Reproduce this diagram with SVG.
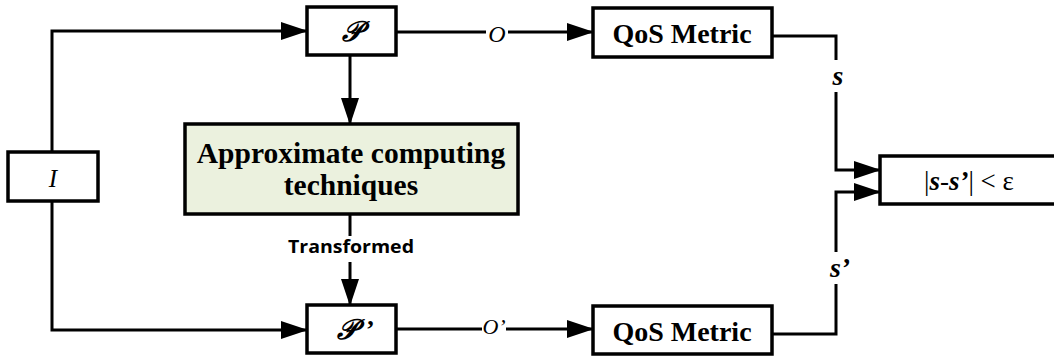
<svg xmlns="http://www.w3.org/2000/svg" width="1054" height="358" viewBox="0 0 1054 358">
<defs>
<marker id="ah" markerUnits="userSpaceOnUse" markerWidth="27" markerHeight="18" refX="26" refY="9" orient="auto" viewBox="0 0 27 18">
<path d="M0,0 L27,9 L0,18 z" fill="#000"/>
</marker>
<style>
.box{fill:#fff;stroke:#000;stroke-width:3.5;}
.green{fill:#ebf1de;stroke:#000;stroke-width:3.5;}
.ln{fill:none;stroke:#000;stroke-width:3;}
.arr{fill:none;stroke:#000;stroke-width:3;marker-end:url(#ah);}
.serif{font-family:"Liberation Serif","DejaVu Serif",serif;}
.bold{font-weight:bold;}
.it{font-style:italic;}
.sans{font-family:"Open Sans","Liberation Sans",sans-serif;font-weight:bold;}
</style>
</defs>
<g id="connectors">
<path class="arr" d="M52,152 V31 H307"/>
<path class="arr" d="M52,201 V330 H307"/>
<path class="arr" d="M350,55 V124"/>
<path class="ln" d="M350,214 V236"/>
<path class="arr" d="M350,262 V305"/>
<path class="ln" d="M396,32 H486"/>
<path class="arr" d="M508,32 H593"/>
<path class="ln" d="M772,36 H836 V60"/>
<path class="arr" d="M836,92 V170 H880"/>
<path class="ln" d="M772,334 H836 V284"/>
<path class="arr" d="M836,252 V192 H880"/>
<path class="ln" d="M396,329 H482"/>
<path class="arr" d="M506,329 H593"/>
</g>
<g id="node-I">
<rect class="box" x="8" y="152" width="90" height="49"/>
<text class="serif it" x="53" y="187" font-size="25" text-anchor="middle">I</text>
</g>
<g id="node-P">
<rect class="box" x="307" y="7" width="89" height="48"/>
<text class="serif it bold" x="352" y="41" font-size="28" text-anchor="middle">𝒫</text>
</g>
<g id="node-approx">
<rect class="green" x="185" y="124" width="333" height="90"/>
<text class="serif bold" x="351" y="163" font-size="29.5" text-anchor="middle">Approximate computing</text>
<text class="serif bold" x="351" y="195" font-size="29.5" text-anchor="middle">techniques</text>
</g>
<g id="label-transformed">
<text class="sans" x="351" y="253" font-size="18" text-anchor="middle" textLength="126" lengthAdjust="spacingAndGlyphs">Transformed</text>
</g>
<g id="node-Pp">
<rect class="box" x="307" y="305" width="89" height="48"/>
<text class="serif it bold" x="347" y="339" font-size="28" text-anchor="middle">𝒫</text>
<text class="serif bold" x="366" y="338" font-size="26">’</text>
</g>
<g id="node-qos1">
<rect class="box" x="593" y="8" width="179" height="49"/>
<text class="serif bold" x="682" y="43" font-size="28" text-anchor="middle">QoS Metric</text>
</g>
<g id="node-qos2">
<rect class="box" x="593" y="306" width="179" height="48"/>
<text class="serif bold" x="682" y="341" font-size="28" text-anchor="middle">QoS Metric</text>
</g>
<g id="node-result">
<rect class="box" x="880" y="156" width="190" height="48"/>
<text class="serif" x="969" y="190" font-size="27" text-anchor="middle">|<tspan class="it bold">s</tspan>-<tspan class="it bold">s’</tspan>| &lt; ε</text>
</g>
<g id="edge-labels">
<text class="serif it" x="497" y="42" font-size="24" text-anchor="middle">O</text>
<text class="serif it" x="494" y="334" font-size="22" text-anchor="middle">O’</text>
<text class="serif it bold" x="838" y="85" font-size="28" text-anchor="middle">s</text>
<text class="serif it bold" x="840" y="277" font-size="28" text-anchor="middle">s’</text>
</g>
</svg>
